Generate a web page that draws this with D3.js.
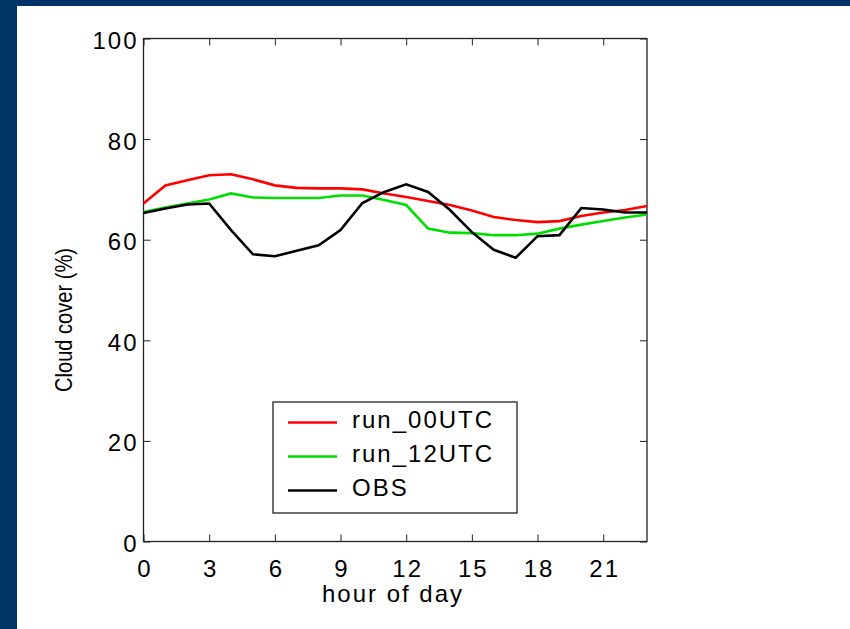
<!DOCTYPE html>
<html>
<head>
<meta charset="utf-8">
<script src="https://cdn.jsdelivr.net/npm/d3@7"></script>
<style>
    body { margin: 0; background: #003366; }
    svg { display: block; }
    text { font-family: "Liberation Sans", Arial, sans-serif; fill: #000; }
</style>
</head>
<body>
<svg id="chart" width="850" height="629"></svg>
<script>
const hours = d3.range(0, 24);
const run00 = [67.2, 70.8, 71.8, 72.8, 73.0, 72.0, 70.8, 70.3, 70.2, 70.2, 70.0, 69.2,
    68.5, 67.7, 66.9, 65.8, 64.5, 63.9, 63.5, 63.7, 64.7, 65.4, 65.9, 66.7];
const run12 = [65.5, 66.4, 67.2, 68.0, 69.2, 68.4, 68.3, 68.3, 68.3, 68.8, 68.8, 67.9,
    66.9, 62.2, 61.4, 61.3, 60.9, 60.9, 61.2, 62.2, 63.0, 63.7, 64.4, 65.0];
const obs = [65.3, 66.2, 67.0, 67.2, 61.9, 57.1, 56.7, 57.8, 58.9, 61.9, 67.3, 69.5,
    71.0, 69.5, 65.9, 61.5, 58.0, 56.4, 60.7, 60.9, 66.3, 66.0, 65.4, 65.4];
const xTicks = [0, 3, 6, 9, 12, 15, 18, 21];
const yTicks = [0, 20, 40, 60, 80, 100];

const seriesList = [
    { name: "run_00UTC", values: run00, color: "#ff0000" },
    { name: "run_12UTC", values: run12, color: "#00dd00" },
    { name: "OBS", values: obs, color: "#000000" }
];

const svg = d3.select("#chart");

// white page inside the blue frame
svg.append("rect")
    .attr("x", 17).attr("y", 6)
    .attr("width", 850 - 17).attr("height", 629 - 6)
    .attr("fill", "#fff");

const plotLeft = 143.5, plotRight = 647, plotTop = 38.5, plotBottom = 541.5;

const x = d3.scaleLinear().domain([0, 23]).range([plotLeft, plotRight]);
const y = d3.scaleLinear().domain([0, 100]).range([plotBottom, plotTop]);

const tickLen = 7;
const frameColor = "#222";
const fontSize = 24;
const spacing = 2;

// axes: ticks point inward on all four sides
const axisB = svg.append("g").attr("transform", `translate(0,${plotBottom})`)
    .call(d3.axisBottom(x).tickValues(xTicks).tickSize(-tickLen));
const axisT = svg.append("g").attr("transform", `translate(0,${plotTop})`)
    .call(d3.axisTop(x).tickValues(xTicks).tickSize(-tickLen).tickFormat(""));
const axisL = svg.append("g").attr("transform", `translate(${plotLeft},0)`)
    .call(d3.axisLeft(y).tickValues(yTicks).tickSize(-tickLen).tickPadding(5));
const axisR = svg.append("g").attr("transform", `translate(${plotRight},0)`)
    .call(d3.axisRight(y).tickValues(yTicks).tickSize(-tickLen).tickFormat(""));

[axisB, axisT, axisL, axisR].forEach((g) => {
    g.select(".domain").remove();
    g.selectAll("line").attr("stroke", frameColor).attr("stroke-width", 1);
    g.selectAll("text")
        .attr("font-family", "Liberation Sans, Arial, sans-serif")
        .attr("font-size", fontSize)
        .attr("letter-spacing", spacing)
        .attr("fill", "#000");
});
axisB.selectAll("text").attr("y", 35.5).attr("dy", 0).attr("dx", spacing / 2);
axisL.selectAll("text").attr("dy", "0.42em");

svg.append("rect")
    .attr("x", plotLeft).attr("y", plotTop)
    .attr("width", plotRight - plotLeft).attr("height", plotBottom - plotTop)
    .attr("fill", "none")
    .attr("stroke", frameColor)
    .attr("stroke-width", 1.3);

const line = d3.line()
    .x((d, i) => x(hours[i]))
    .y((d) => y(d));

svg.append("g").selectAll("path")
    .data(seriesList)
    .enter()
    .append("path")
    .attr("d", (s) => line(s.values))
    .attr("fill", "none")
    .attr("stroke", (s) => s.color)
    .attr("stroke-width", 2.6)
    .attr("stroke-linejoin", "miter");

// axis labels
svg.append("text")
    .attr("x", 393)
    .attr("y", 602)
    .attr("text-anchor", "middle")
    .attr("font-size", fontSize)
    .attr("letter-spacing", spacing)
    .text("hour of day");

// the rotated label is drawn narrower in the original
svg.append("text")
    .attr("transform", "translate(72,320) rotate(-90)")
    .attr("text-anchor", "middle")
    .attr("font-size", fontSize)
    .attr("textLength", 144)
    .attr("lengthAdjust", "spacingAndGlyphs")
    .text("Cloud cover (%)");

// legend
const legend = svg.append("g");
legend.append("rect")
    .attr("x", 273).attr("y", 402)
    .attr("width", 244).attr("height", 111)
    .attr("fill", "#fff")
    .attr("stroke", frameColor)
    .attr("stroke-width", 1.3);

const items = legend.selectAll(".item")
    .data(seriesList)
    .enter()
    .append("g")
    .attr("class", "item")
    .attr("transform", (d, i) => `translate(0,${422.5 + i * 34})`);

items.append("line")
    .attr("x1", 288).attr("x2", 337)
    .attr("stroke", (d) => d.color)
    .attr("stroke-width", 2.6);

items.append("text")
    .attr("x", 352)
    .attr("y", 5)
    .attr("font-size", fontSize)
    .attr("letter-spacing", spacing)
    .text((d) => d.name);
</script>
</body>
</html>
